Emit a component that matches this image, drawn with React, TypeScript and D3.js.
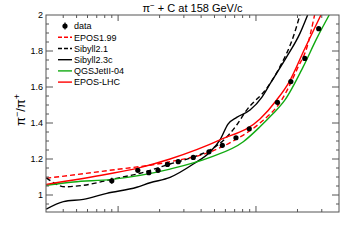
import * as d3 from "d3";

// data points (pi-/pi+ vs momentum, log x)
const dataX = [0.9, 1.39, 1.67, 1.95, 2.28, 2.73, 3.51, 4.56, 5.7, 7.16, 8.94, 14.3, 17.9, 22.6, 28.5];
const dataY = [1.079, 1.137, 1.124, 1.137, 1.17, 1.185, 1.209, 1.24, 1.276, 1.318, 1.368, 1.515, 1.63, 1.759, 1.924];
const dataErr = [0.017, 0, 0, 0, 0, 0, 0, 0, 0, 0, 0, 0, 0, 0, 0];

// model curves, [x, ratio]
const epos199: [number, number][] = [
  [0.301, 1.093], [0.828, 1.135], [2.381, 1.185], [4.642, 1.239], [7.247, 1.311],
  [10.69, 1.4], [15.36, 1.528], [20.26, 1.713], [23.3, 1.815], [26.6, 2.0],
];
const sibyll21: [number, number][] = [
  [0.301, 1.096], [0.413, 1.046], [0.56, 1.054], [0.9, 1.087], [1.443, 1.121],
  [2.381, 1.172], [3.513, 1.211], [4.642, 1.25], [6.134, 1.322], [7.247, 1.389],
  [8.563, 1.472], [11.96, 1.593], [14.93, 1.713], [18.64, 1.879], [20.84, 2.0],
];
const sibyll23c: [number, number][] = [
  [0.301, 0.921], [0.4015, 0.963], [0.56, 0.976], [0.828, 1.009], [1.366, 1.043],
  [1.706, 1.068], [2.381, 1.098], [3.513, 1.172], [4.642, 1.239], [5.484, 1.306],
  [6.268, 1.394], [7.247, 1.431], [9.05, 1.472], [11.05, 1.544], [12.63, 1.617],
  [16.69, 1.767], [20.84, 1.898], [23.7, 2.0],
];
const qgsjet: [number, number][] = [
  [0.301, 1.054], [0.474, 1.072], [0.9, 1.087], [2.381, 1.144], [4.642, 1.209],
  [8.091, 1.296], [10.69, 1.379], [12.99, 1.444], [16.23, 1.528], [22.02, 1.713],
  [27.6, 1.87], [33.98, 2.0],
];
const eposLhc: [number, number][] = [
  [0.301, 1.059], [0.828, 1.115], [1.37, 1.148], [2.381, 1.2], [5.484, 1.306],
  [10.69, 1.422], [14.13, 1.528], [17.43, 1.629], [22.65, 1.815], [29.58, 2.0],
];

const curves = [
  { name: "EPOS1.99", pts: epos199, color: "#ff0000", dash: "5,3" },
  { name: "Sibyll2.1", pts: sibyll21, color: "#000000", dash: "5,3" },
  { name: "Sibyll2.3c", pts: sibyll23c, color: "#000000", dash: null },
  { name: "QGSJetII-04", pts: qgsjet, color: "#11aa11", dash: null },
  { name: "EPOS-LHC", pts: eposLhc, color: "#ff0000", dash: null },
];

const yLabels = [1, 1.2, 1.4, 1.6, 1.8, 2];

const W = 357;
const H = 244;
const left = 46;
const right = 339;
const top = 15;
const bottom = 212;

const App = () => {
  const x = d3.scaleLog().domain([0.3, 40]).range([left, right]);
  const y = d3.scaleLinear().domain([0.9, 2]).range([bottom + 1, top]);

  const line = d3
    .line<[number, number]>()
    .x(d => x(d[0]))
    .y(d => y(d[1]))
    .curve(d3.curveMonotoneX);

  const xTicks = x.ticks().filter(t => t > 0.3 && t < 40);
  const yTicks = d3.range(0, 23).map(i => 0.9 + i * 0.05).filter(t => t > 0.91 && t < 1.99);
  const font = "'Liberation Sans', Arial, sans-serif";

  return (
    <svg width={W} height={H} style={{ position: "absolute", left: 0, top: 0, background: "#fff" }}>
      <defs>
        <clipPath id="plot">
          <rect x={left} y={top} width={right - left} height={bottom - top} />
        </clipPath>
      </defs>

      <text x={(left + right) / 2} y={12} textAnchor="middle" fontSize={11} fontFamily={font}>
        {"π"}
        <tspan dy={-4} fontSize={8}>−</tspan>
        <tspan dy={4}>{" + C at 158 GeV/c"}</tspan>
      </text>

      <g clipPath="url(#plot)">
        {curves.map(c => (
          <path
            key={c.name}
            d={line(c.pts) || ""}
            fill="none"
            stroke={c.color}
            strokeWidth={1.4}
            strokeDasharray={c.dash || undefined}
          />
        ))}
      </g>

      {dataX.map((d, i) => (
        <g key={i}>
          {dataErr[i] > 0 && (
            <line
              x1={x(d)} x2={x(d)}
              y1={y(dataY[i] - dataErr[i])} y2={y(dataY[i] + dataErr[i])}
              stroke="#000" strokeWidth={1.2}
            />
          )}
          <circle cx={x(d)} cy={y(dataY[i])} r={2.6} fill="#000" />
        </g>
      ))}

      {/* frame + ticks */}
      <rect x={left} y={top} width={right - left} height={bottom - top} fill="none" stroke="#555" strokeWidth={1} />
      {xTicks.map(t => {
        const major = Math.abs(Math.log10(t) - Math.round(Math.log10(t))) < 1e-6;
        const len = major ? 6 : 3;
        return (
          <g key={"x" + t} stroke="#555" strokeWidth={1}>
            <line x1={x(t)} x2={x(t)} y1={bottom} y2={bottom - len} />
            <line x1={x(t)} x2={x(t)} y1={top} y2={top + len} />
          </g>
        );
      })}
      {yTicks.map(t => {
        const major = Math.abs(t * 5 - Math.round(t * 5)) < 1e-6;
        const len = major ? 7 : 3;
        return (
          <g key={"y" + t} stroke="#555" strokeWidth={1}>
            <line x1={left} x2={left + len} y1={y(t)} y2={y(t)} />
            <line x1={right} x2={right - len} y1={y(t)} y2={y(t)} />
          </g>
        );
      })}
      {yLabels.map(t => (
        <text key={"yl" + t} x={43} y={y(t) + 3} textAnchor="end" fontSize={9} fontFamily={font}>
          {d3.format("~g")(t)}
        </text>
      ))}

      <text transform="translate(25,110) rotate(-90)" textAnchor="middle" fontSize={13} fontFamily={font}>
        {"π"}
        <tspan dy={-5} fontSize={9}>−</tspan>
        <tspan dy={5}>{"/π"}</tspan>
        <tspan dy={-5} fontSize={9}>+</tspan>
      </text>

      {/* legend */}
      <g fontFamily={font} fontSize={9}>
        <line x1={65} x2={65} y1={22.5} y2={29.5} stroke="#000" strokeWidth={1.2} />
        <circle cx={65} cy={26} r={2.6} fill="#000" />
        <text x={74} y={29.2}>data</text>
        {curves.map((c, i) => {
          const ly = 37.3 + i * 11.2;
          return (
            <g key={"lg" + c.name}>
              <line
                x1={58} x2={72} y1={ly} y2={ly}
                stroke={c.color} strokeWidth={1.4}
                strokeDasharray={c.dash ? "4,2" : undefined}
              />
              <text x={74} y={ly + 3.2}>{c.name}</text>
            </g>
          );
        })}
      </g>
    </svg>
  );
};

export default App;
